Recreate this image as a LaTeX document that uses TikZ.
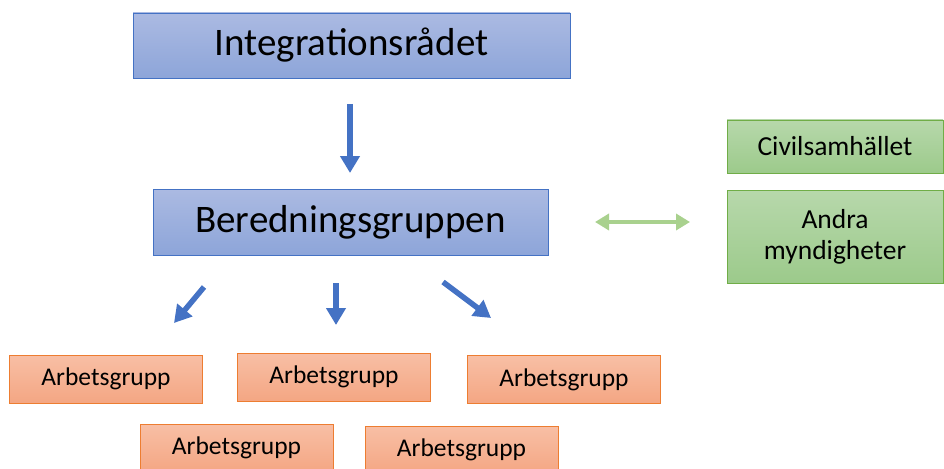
\documentclass[tikz,border=0pt]{standalone}
\usepackage{fontspec}
\setmainfont{Carlito}
\usetikzlibrary{arrows.meta}

\begin{document}
\definecolor{bluefr}{HTML}{4472C4}
\definecolor{bluetop}{HTML}{ABBAE2}
\definecolor{bluebot}{HTML}{8DA5D9}
\definecolor{greenfr}{HTML}{70AD47}
\definecolor{greentop}{HTML}{B7D8AB}
\definecolor{greenbot}{HTML}{9CCA8B}
\definecolor{greenarr}{HTML}{A9D18E}
\definecolor{orangefr}{HTML}{ED7D31}
\definecolor{orangetop}{HTML}{F8BFA5}
\definecolor{orangebot}{HTML}{F4A683}
\begin{tikzpicture}[x=1pt,y=-1pt,
  mainbox/.style={rectangle,draw=bluefr,line width=0.8pt,top color=bluetop,bottom color=bluebot,
    font=\fontsize{39}{44}\selectfont},
  extbox/.style={rectangle,draw=greenfr,line width=0.8pt,top color=greentop,bottom color=greenbot,
    minimum width=216pt,align=center,font=\fontsize{27.5}{31}\selectfont},
  workbox/.style={rectangle,draw=orangefr,line width=0.8pt,top color=orangetop,bottom color=orangebot,
    minimum width=193pt,minimum height=48pt,font=\fontsize{25.5}{30}\selectfont},
  downarr/.style={draw=bluefr,line width=5.5pt,-{Triangle[length=17pt,width=19pt,fill=bluefr]}},
  botharr/.style={draw=greenarr,line width=4.5pt,{Triangle[length=14pt,width=16pt,fill=greenarr]}-{Triangle[length=14pt,width=16pt,fill=greenarr]}}
  ]
  \useasboundingbox (0,0) rectangle (944,468);

  \node[mainbox,minimum width=437pt,minimum height=65pt] (integ) at (351.5,45.5) {Integrationsrådet};
  \node[mainbox,minimum width=395pt,minimum height=66pt] (bered) at (350.5,222) {Beredningsgruppen};

  \node[extbox,minimum height=53pt] (civil) at (835,146.5) {Civilsamhället};
  \node[extbox,minimum height=93pt] (andra) at (835,236.5) {Andra\\myndigheter};

  \node[workbox] (arb1) at (106,379) {Arbetsgrupp};
  \node[workbox] (arb2) at (334,377) {Arbetsgrupp};
  \node[workbox] (arb3) at (564,379.5) {Arbetsgrupp};
  \node[workbox] (arb4) at (236.5,448) {Arbetsgrupp};
  \node[workbox] (arb5) at (461.5,450) {Arbetsgrupp};

  \coordinate (top0) at (350,104);
  \coordinate (tip0) at (350,173);
  \coordinate (top1) at (204,287);
  \coordinate (tip1) at (174,323);
  \coordinate (top2) at (336,283);
  \coordinate (tip2) at (336,325);
  \coordinate (top3) at (443,282);
  \coordinate (tip3) at (491,318);
  \coordinate (lnk1) at (595,222);
  \coordinate (lnk2) at (690,222);

  \draw[downarr] (top0) -- (tip0);
  \draw[downarr] (top1) -- (tip1);
  \draw[downarr] (top2) -- (tip2);
  \draw[downarr] (top3) -- (tip3);
  \draw[botharr] (lnk1) -- (lnk2);
\end{tikzpicture}
\end{document}
